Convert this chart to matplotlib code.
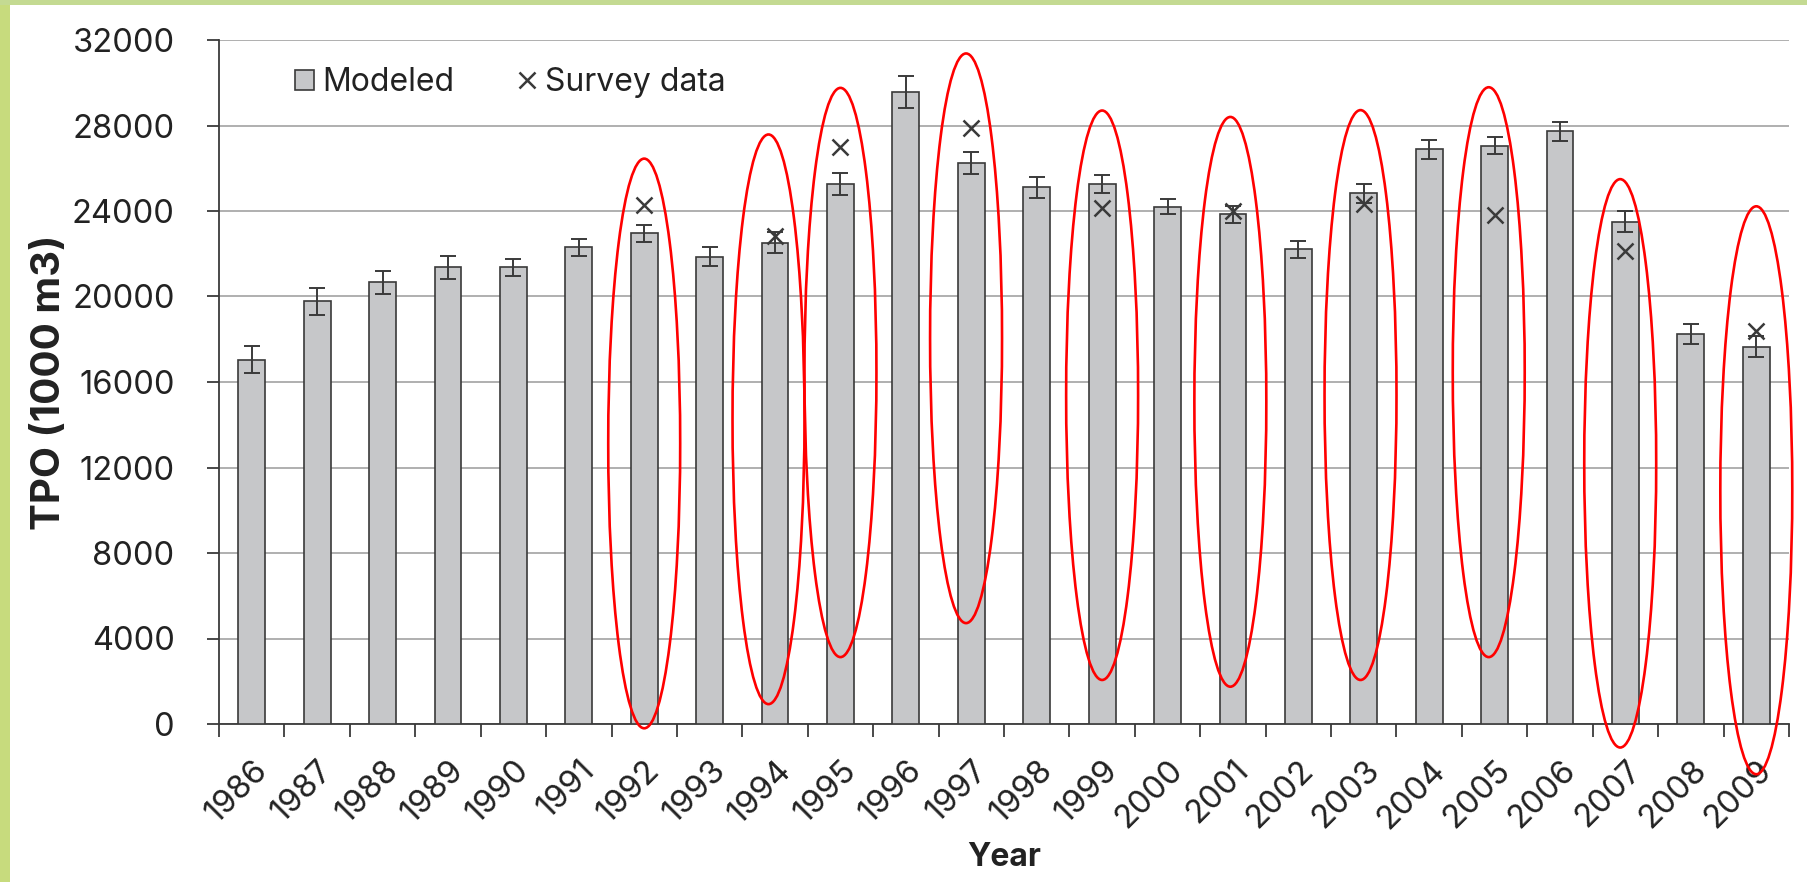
import numpy as np
import matplotlib
matplotlib.use("Agg")
import matplotlib.pyplot as plt
from matplotlib.patches import Rectangle, Ellipse
from matplotlib.lines import Line2D

# --- data -------------------------------------------------------------
years = list(range(1986, 2010))
modeled = [17050, 19780, 20660, 21360, 21360, 22300, 22960, 21860, 22520,
           25270, 29570, 26230, 25110, 25270, 24200, 23850, 22200, 24820,
           26890, 27060, 27720, 23500, 18250, 17650]
modeled_err = [650, 640, 520, 520, 400, 410, 400, 450, 480,
               520, 740, 520, 490, 410, 360, 400, 410, 440,
               440, 400, 440, 500, 480, 500]

survey_years = [1992, 1994, 1995, 1997, 1999, 2001, 2003, 2005, 2007, 2009]
survey_values = [24300, 22830, 27000, 27900, 24150, 23980, 24320, 23810, 22150, 18400]

# highlighted years: upper and lower reach of each ring (TPO units)
ring_years = [1992, 1994, 1995, 1997, 1999, 2001, 2003, 2005, 2007, 2009]
ring_top = [26450, 27580, 29760, 31370, 28700, 28400, 28720, 29790, 25490, 24220]
ring_bottom = [-200, 930, 3130, 4720, 2060, 1745, 2060, 3130, -1100, -2350]
ring_shift = [0.0, -0.1, 0.0, -0.08, 0.0, -0.04, -0.05, -0.09, -0.08, 0.0]

yticks = list(range(0, 32001, 4000))

# --- style --------------------------------------------------------------
plt.rcParams["font.family"] = ["Inter", "DejaVu Sans"]
TEXT = "#222222"
DARK = "#3a3a3a"
BAR = "#c6c7c9"
GRID = "#a9a9a9"

W, H = 1807, 882
fig = plt.figure(figsize=(W / 100, H / 100), dpi=100)
fig.patch.set_facecolor("white")

# page border strips
fig.patches.append(Rectangle((0, 0), 10 / W, 1, transform=fig.transFigure,
                             facecolor="#c7db7d", edgecolor="none", zorder=0))
fig.patches.append(Rectangle((0, 1 - 5 / H), 1, 5 / H, transform=fig.transFigure,
                             facecolor="#c4da92", edgecolor="none", zorder=0))

ax = fig.add_axes([219 / W, (H - 724) / H, (1789 - 219) / W, (724 - 40) / H])

x = np.arange(len(years))
ax.bar(x, modeled, width=0.41, color=BAR, edgecolor=DARK, linewidth=1.2, zorder=3)
ax.errorbar(x, modeled, yerr=modeled_err, fmt="none", ecolor=DARK,
            elinewidth=1.4, capsize=6, capthick=1.4, zorder=4)

sx = [years.index(y) for y in survey_years]
ax.plot(sx, survey_values, linestyle="none", marker="x", color=DARK,
        markersize=12, markeredgewidth=1.8, zorder=5)

for yr, top, bot, dx in zip(ring_years, ring_top, ring_bottom, ring_shift):
    ax.add_patch(Ellipse((years.index(yr) + dx, (top + bot) / 2), width=1.1,
                         height=top - bot, fill=False, edgecolor="#ff0000",
                         linewidth=1.9, zorder=6, clip_on=False))

# axes
ax.set_xlim(-0.5, len(years) - 0.5)
ax.set_ylim(0, 32000)
ax.set_yticks(yticks)
ax.set_yticklabels([str(v) for v in yticks])
ax.yaxis.grid(True, color=GRID, linewidth=1.3, zorder=0)
ax.set_axisbelow(True)

ax.set_xticks(x)
ax.set_xticklabels([str(y) for y in years], rotation=45, ha="right", va="top",
                   rotation_mode="anchor")
ax.set_xticks(np.arange(-0.5, len(years)), minor=True)
ax.tick_params(axis="x", which="major", length=0, pad=22, labelsize=23.5,
               labelcolor=TEXT)
ax.tick_params(axis="x", which="minor", length=9, width=1.3, color=DARK,
               direction="out")
ax.tick_params(axis="y", length=9, width=1.3, color=DARK, direction="out",
               pad=23, labelsize=23.5, labelcolor=TEXT)

for side in ("top", "right"):
    ax.spines[side].set_visible(False)
for side in ("left", "bottom"):
    ax.spines[side].set_color(DARK)
    ax.spines[side].set_linewidth(1.3)

ax.set_ylabel("TPO (1000 m3)", fontsize=29, fontweight="bold", color=TEXT)
ax.yaxis.set_label_coords(-0.096, 0.5)
ax.set_xlabel("Year", fontsize=23, fontweight="bold", color=TEXT)
ax.xaxis.set_label_coords(0.5, -0.172)

handles = [
    Rectangle((0, 0), 1, 1, facecolor=BAR, edgecolor=DARK, linewidth=1.2),
    Line2D([], [], linestyle="none", marker="x", color=DARK,
           markersize=12, markeredgewidth=1.8),
]
ax.legend(handles, ["Modeled", "Survey data"], ncol=2, frameon=False,
          loc="center left", bbox_to_anchor=(0.038, 0.938), borderpad=0,
          handlelength=0.6, handleheight=0.6, handletextpad=0.25,
          columnspacing=2.0, fontsize=23, labelcolor=TEXT)

fig.savefig("out.png", dpi=100)
